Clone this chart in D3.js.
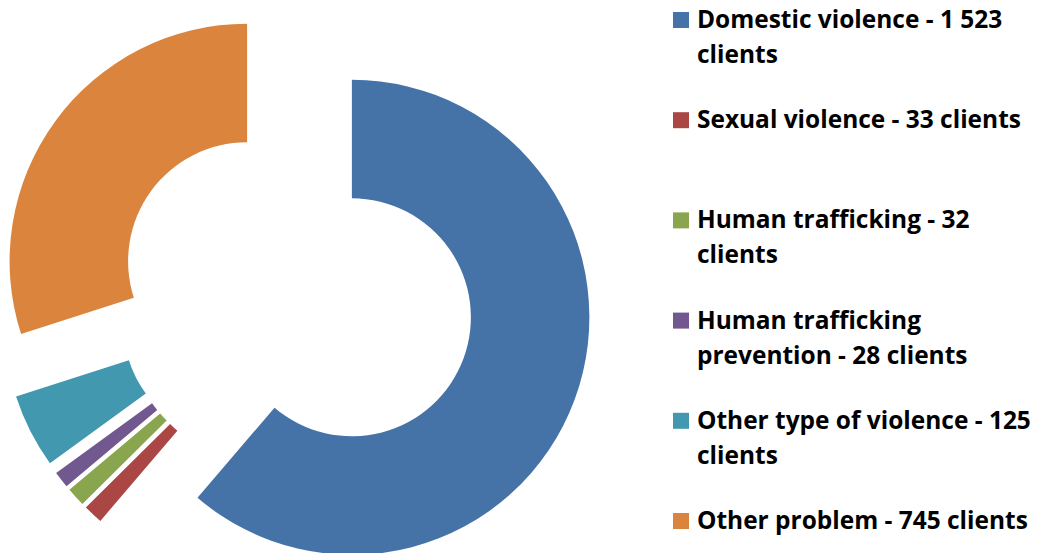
<!DOCTYPE html>
<html>
<head>
<meta charset="utf-8">
<script src="https://cdn.jsdelivr.net/npm/d3@7"></script>
<style>
  body { margin: 0; background: #fff; }
  svg { display: block; }
</style>
</head>
<body>
<svg id="chart" width="1043" height="553"></svg>
<script>
const categories = ['Domestic violence', 'Sexual violence', 'Human trafficking',
  'Human trafficking prevention', 'Other type of violence', 'Other problem'];
const clients = [1523, 33, 32, 28, 125, 745];
const valueLabels = ['1 523', '33', '32', '28', '125', '745'];
const colors = ['#4573A8', '#AA4644', '#89A54E', '#71588F', '#4198AF', '#DB843D'];
// line breaks as they fall in the legend
const legendLines = [
  ['Domestic violence - 1 523', 'clients'],
  ['Sexual violence - 33 clients'],
  ['Human trafficking - 32', 'clients'],
  ['Human trafficking', 'prevention - 28 clients'],
  ['Other type of violence - 125', 'clients'],
  ['Other problem - 745 clients']
];

const svg = d3.select('#chart');
const cx = 295.6, cy = 296.5;
const outer = 237.5, inner = 119;
const explode = 60;

const pie = d3.pie().sort(null).value(d => d);
const arc = d3.arc().innerRadius(inner).outerRadius(outer);
const arcs = pie(clients);

svg.append('g')
  .attr('transform', `translate(${cx},${cy})`)
  .selectAll('path')
  .data(arcs)
  .join('path')
  .attr('fill', (d, i) => colors[i])
  .attr('transform', d => {
    const mid = (d.startAngle + d.endAngle) / 2;
    return `translate(${explode * Math.sin(mid)},${-explode * Math.cos(mid)})`;
  })
  .attr('d', arc);

// legend
const legendY = d3.scalePoint().domain(d3.range(categories.length)).range([28, 529]);
const font = "bold 28px 'Open Sans', sans-serif";

const item = svg.append('g')
  .selectAll('g')
  .data(categories)
  .join('g')
  .attr('transform', (d, i) => `translate(0,${legendY(i)})`);

item.append('rect')
  .attr('x', 673)
  .attr('y', -16)
  .attr('width', 16)
  .attr('height', 16)
  .attr('fill', (d, i) => colors[i]);

const text = item.append('text')
  .attr('x', 697)
  .style('font', font)
  .attr('fill', '#000');

text.selectAll('tspan')
  .data((d, i) => legendLines[i])
  .join('tspan')
  .attr('x', 697)
  .attr('y', (d, j) => j * 35)
  .text(d => d);

// size the substitute font so lines take the width Calibri had
const ref = text.filter((d, i) => i === 1).node();
const w = ref.getComputedTextLength();
const size = 28 * 324 / w;
text.style('font-size', size + 'px');
</script>
</body>
</html>
